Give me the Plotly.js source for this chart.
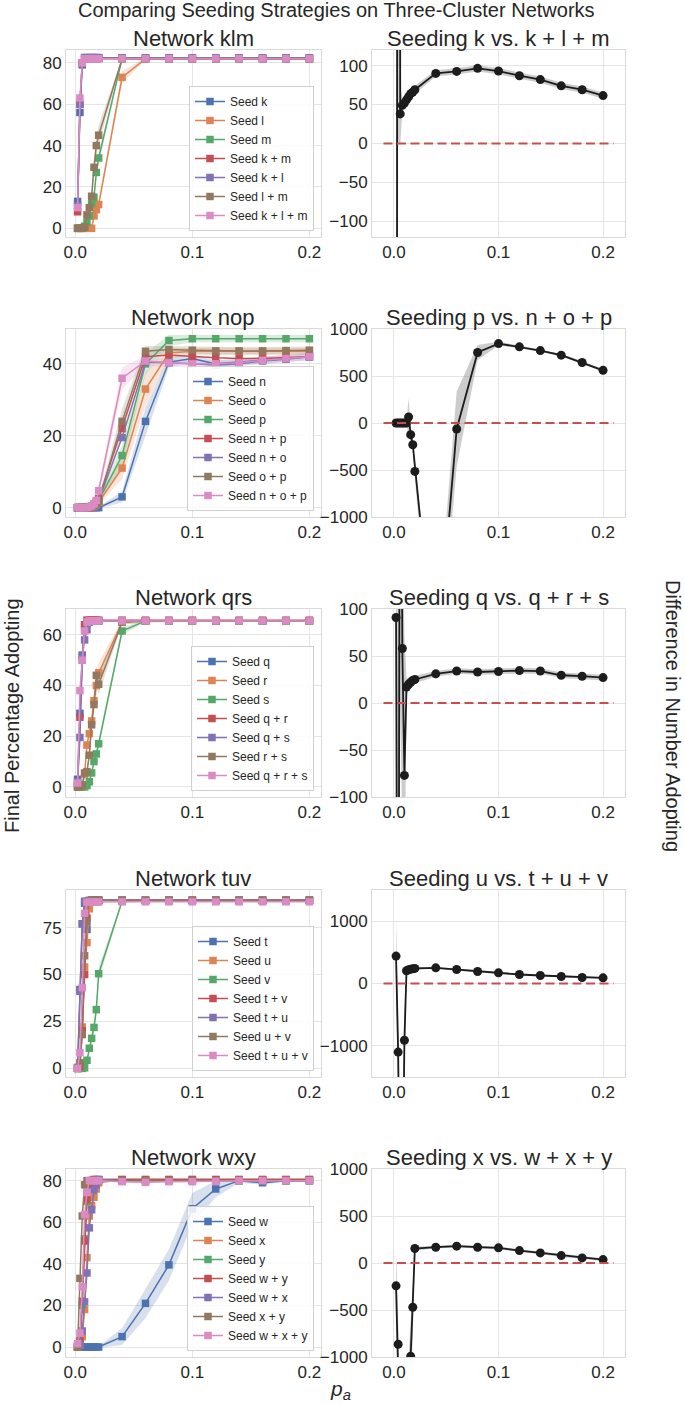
<!DOCTYPE html>
<html><head><meta charset="utf-8">
<script src="https://cdn.plot.ly/plotly-3.0.1.min.js"></script>
<style>body{margin:0;padding:0;background:#fff}#chart{width:685px;height:1405px}</style>
</head><body><div id="chart"></div>
<script>
// ---------- data ----------
const pa = [0.002,0.004,0.006,0.008,0.010,0.012,0.014,0.016,0.018,0.020,0.04,0.06,0.08,0.10,0.12,0.14,0.16,0.18,0.20];
const xTickVals = [0, 0.1, 0.2];
const xTickText = ['0.0', '0.1', '0.2'];
const zeroLineX = [-0.01, 0.21];
const zeroLineY = [0, 0];

// Network klm
const klmNames = ['Seed k','Seed l','Seed m','Seed k + m','Seed k + l','Seed l + m','Seed k + l + m'];
const klm_k   = [13,56,79,82.5,82.5,82.5,82.5,82.5,82.5,82.5,82.4,82.4,82.4,82.4,82.4,82.4,82.4,82.4,82.4];
const klm_l   = [0,0,0,0,0,0,0,6,9,11.5,73,82,82,82,82,82,82,82,82];
const klm_m   = [0,0,0,1,3,6,12,15,27,34,82,82,82,82,82,82,82,82,82];
const klm_km  = [8,60,80,82,82,82,82,82,82,82,82,82,82,82,82,82,82,82,82];
const klm_kl  = [11,60,80,82.5,82.5,82.5,82.5,82.5,82.5,82.5,82.4,82.4,82.4,82.4,82.4,82.4,82.4,82.4,82.4];
const klm_lm  = [0,0,0,0.5,6.5,10,15.5,29.5,40,45,82,82,82,82,82,82,82,82,82];
const klm_klm = [10,63,80,82,82,82,82,82,82,82,82,82,82,82,82,82,82,82,82];
const klm_l_err  = [0,0,0,0,0,0,0,1,1.5,2,3,0.5,0.3,0.3,0.3,0.3,0.3,0.3,0.3];
const klm_m_err  = [0,0,0,0.5,1,1.5,2,2,3,3,0.5,0.3,0.3,0.3,0.3,0.3,0.3,0.3,0.3];
const klm_lm_err = [0,0,0,0.3,1.5,2,3,4,5,5,0.5,0.3,0.3,0.3,0.3,0.3,0.3,0.3,0.3];
const klm_diff     = [-3000,3000,38,49,52,56,60,64,66,69,90,92.5,96.5,93,87,82,74,69,61.5];
const klm_diff_err = [3000,3000,40,8,6,6,5,5,5,5,4,4,4,4,4,4,4,4,4];

// Network nop
const nopNames = ['Seed n','Seed o','Seed p','Seed n + p','Seed n + o','Seed o + p','Seed n + o + p'];
const nop_n   = [0,0,0,0,0,0,0,0,0,0,3,24,40.5,41.5,40,40.5,41,41.5,42];
const nop_o   = [0,0,0,0,0,0,0,0.3,0.8,1.5,11,33,43,43.5,43.5,43.5,43.5,43.5,43.5];
const nop_p   = [0,0,0,0,0,0.3,0.5,1,1.3,2,14.5,40,46.5,47,47,47,47,47,47];
const nop_np  = [0,0,0,0,0,0,0.3,0.8,1.5,2.5,22,42,42.5,42,41.7,41.5,41.5,41.8,42];
const nop_no  = [0,0,0,0,0,0,0.2,0.6,1.2,2,19.5,40.5,40.3,40,39.7,40,40.8,41.3,42];
const nop_op  = [0,0,0,0,0,0,0.2,0.5,1,1.8,24,43.5,44,43.8,43.6,43.6,43.6,43.7,43.8];
const nop_nop = [0,0,0,0,0,0.2,0.5,1,2,4.7,36,40.8,40.3,40,40,40.3,41,41.5,42];
const nop_n_err   = [0,0,0,0,0,0,0,0,0,0.3,1.5,4,1.5,1,1,1,1,1,1];
const nop_o_err   = [0,0,0,0,0,0,0,0.3,0.5,0.8,3,4.5,1.5,1,1,1,1,1,1];
const nop_p_err   = [0,0,0,0,0,0.3,0.4,0.5,0.7,1,3,3,1.5,1,1,1,1,1,1];
const nop_op_err  = [0,0,0,0,0,0,0.2,0.3,0.5,1,3.5,1.5,1,1,1,1,1,1,1];
const nop_nop_err = [0,0,0,0,0,0.2,0.3,0.5,1,1.5,3,1.5,1,1,1,1,1,1,1];
const nop_diff     = [0,0,0,0,0,0,64,-124,-231,-515,-2670,-64,750,845,810,770,722,644,560];
const nop_diff_err = [5,5,5,5,5,10,200,80,60,80,300,400,80,20,15,15,15,15,15];

// Network qrs
const qrsNames = ['Seed q','Seed r','Seed s','Seed q + r','Seed q + s','Seed r + s','Seed q + r + s'];
const qrs_q   = [3,29,52,63,64.5,65.5,65.5,65.5,65.5,65.5,65.5,65.5,65.5,65.5,65.5,65.5,65.5,65.5,65.5];
const qrs_r   = [0,0,0.5,5,16.5,21,26,34,40,45,65,65.5,65.5,65.5,65.5,65.5,65.5,65.5,65.5];
const qrs_s   = [0,0,0,0,0.5,2,5.5,10,13,17,61.5,65.5,65.5,65.5,65.5,65.5,65.5,65.5,65.5];
const qrs_qr  = [1,27.5,50,64,65.8,65.8,65.8,65.8,65.8,65.8,65.8,65.8,65.8,65.8,65.8,65.8,65.8,65.8,65.8];
const qrs_qs  = [2,19.5,51.5,58,62,65,65.5,65.5,65.5,65.5,65.5,65.5,65.5,65.5,65.5,65.5,65.5,65.5,65.5];
const qrs_rs  = [0,0,0.8,5.5,6,12.5,24.5,32.5,44,40.5,65,65.5,65.5,65.5,65.5,65.5,65.5,65.5,65.5];
const qrs_qrs = [1.5,38,50,61.5,65,65.5,65.5,65.5,65.5,65.5,65.5,65.5,65.5,65.5,65.5,65.5,65.5,65.5,65.5];
const qrs_r_err  = [0,0,0.3,1,2,3,3,4,4,4,1,0.5,0.3,0.3,0.3,0.3,0.3,0.3,0.3];
const qrs_s_err  = [0,0,0,0,0.3,0.5,1,1.5,2,2,1.5,0.5,0.3,0.3,0.3,0.3,0.3,0.3,0.3];
const qrs_rs_err = [0,0,0.3,1,1.5,2,3,3.5,4,4,1,0.5,0.3,0.3,0.3,0.3,0.3,0.3,0.3];
const qrs_diff     = [91,-600,600,58,-77,17,20,22,24,25,31,34,33,33.5,34.5,34,29.5,28.5,27];
const qrs_diff_err = [400,600,600,200,150,10,5,4,4,4,3,3,3,3,3,3,3,3,3];

// Network tuv
const tuvNames = ['Seed t','Seed u','Seed v','Seed t + v','Seed t + u','Seed u + v','Seed t + u + v'];
const tuv_t   = [0.5,42,77,88,74,87,89.5,89.5,89.5,89.5,89.5,89.5,89.5,89.5,89.5,89.5,89.5,89.5,89.5];
const tuv_u   = [0,2,22,54,67,85,89.5,89.5,89.5,89.5,89.5,89.5,89.5,89.5,89.5,89.5,89.5,89.5,89.5];
const tuv_v   = [0,0,0,0.3,4.3,10.7,16,21.8,31.3,50.4,89,89.3,89.3,89.3,89.3,89.3,89.3,89.3,89.3];
const tuv_tv  = [0,1,20,50,80,89,89.5,89.5,89.5,89.5,89.5,89.5,89.5,89.5,89.5,89.5,89.5,89.5,89.5];
const tuv_tu  = [0,41,77,89,89,89.5,89.5,89.5,89.5,89.5,89.5,89.5,89.5,89.5,89.5,89.5,89.5,89.5,89.5];
const tuv_uv  = [0,3,18,60,78,89,89.5,89.5,89.5,89.5,89.5,89.5,89.5,89.5,89.5,89.5,89.5,89.5,89.5];
const tuv_tuv = [0,8.4,43,82.6,88.4,88.5,88.6,88.6,88.6,88.6,88.7,88.7,88.7,88.7,88.7,88.7,88.7,88.7,88.7];
const tuv_v_err = [0,0,0,0.2,1,1.5,2,2.5,3,3.5,1,0.3,0.3,0.3,0.3,0.3,0.3,0.3,0.3];
const tuv_diff     = [440,-1100,-4000,-4000,-910,205,220,230,237,242,251,225,193,171,144,128,112,96,91];
const tuv_diff_err = [600,500,1000,1000,500,30,20,20,20,20,15,15,15,15,15,15,15,15,15];

// Network wxy
const wxyNames = ['Seed w','Seed x','Seed y','Seed w + y','Seed w + x','Seed x + y','Seed w + x + y'];
const wxy_w   = [0,0,0,0,0,0,0,0,0,0,5,21,39.5,66.5,76,80,79,80,80];
const wxy_x   = [0,1,5,18,43,63,68,72,76,79,80.5,80.5,80.5,80.5,80.5,80.5,80.5,80.5,80.5];
const wxy_y   = [0,2,20,52,70,79,80,80.5,80.5,80.5,80.5,80.5,80.5,80.5,80.5,80.5,80.5,80.5,80.5];
const wxy_wy  = [0,3,22,51,71,78,80,80.5,80.5,80.5,80.5,80.5,80.5,80.5,80.5,80.5,80.5,80.5,80.5];
const wxy_wx  = [0,1,7.7,21.7,35.6,57.3,66,75.5,78,80.5,80,80,80,80,80,80,80,80,80];
const wxy_xy  = [0,33,63,78,80,80,80,80,80,80,80,80,80,80,80,80,80,80,80];
const wxy_wxy = [1.6,6.7,29,63.7,74.3,80,80,80,80,80,79.5,79.2,79.5,79.5,79.7,80,80,80,80];
const wxy_w_err = [0,0,0,0,0,0,0,0,0,0.5,4,7,7.5,7.5,4,1,1,0.5,0.5];
const wxy_diff     = [-243,-864,-2500,-3000,-2500,-2000,-1800,-993,-471,154,168,179,168,161,132,107,79,54,36];
const wxy_diff_err = [350,300,800,800,800,800,800,400,300,20,15,15,15,15,15,15,15,15,15];

// ---------- styling ----------
const FONT = 'Liberation Sans, Arial, sans-serif';
const TXT = '#262626';
const COLORS = ['#4C72B0','#DD8452','#55A868','#C44E52','#8172B3','#937860','#DA8BC3'];
const W = 685, H = 1405;
const leftX = [66, 321], rightX = [372, 625];
const rowTop = [50, 329, 609, 890, 1169];
const rowBot = [237, 517, 797, 1077, 1357];

const rows = [
  {title:'Network klm', right:'Seeding k vs. k + l + m', names:klmNames,
   series:[klm_k,klm_l,klm_m,klm_km,klm_kl,klm_lm,klm_klm], errs:{1:klm_l_err,2:klm_m_err,5:klm_lm_err},
   yr:[-4.2,86.2], dt:20, diff:klm_diff, derr:klm_diff_err, dyr:[-120,120], ddt:50},
  {title:'Network nop', right:'Seeding p vs. n + o + p', names:nopNames,
   series:[nop_n,nop_o,nop_p,nop_np,nop_no,nop_op,nop_nop], errs:{0:nop_n_err,1:nop_o_err,2:nop_p_err,5:nop_op_err,6:nop_nop_err},
   yr:[-2.6,49.7], dt:20, diff:nop_diff, derr:nop_diff_err, dyr:[-1000,1000], ddt:500},
  {title:'Network qrs', right:'Seeding q vs. q + r + s', names:qrsNames,
   series:[qrs_q,qrs_r,qrs_s,qrs_qr,qrs_qs,qrs_rs,qrs_qrs], errs:{1:qrs_r_err,2:qrs_s_err,5:qrs_rs_err},
   yr:[-4.0,70.2], dt:20, diff:qrs_diff, derr:qrs_diff_err, dyr:[-100,100], ddt:50},
  {title:'Network tuv', right:'Seeding u vs. t + u + v', names:tuvNames,
   series:[tuv_t,tuv_u,tuv_v,tuv_tv,tuv_tu,tuv_uv,tuv_tuv], errs:{2:tuv_v_err},
   yr:[-4.6,95], dt:25, diff:tuv_diff, derr:tuv_diff_err, dyr:[-1500,1500], ddt:1000},
  {title:'Network wxy', right:'Seeding x vs. w + x + y', names:wxyNames,
   series:[wxy_w,wxy_x,wxy_y,wxy_wy,wxy_wx,wxy_xy,wxy_wxy], errs:{0:wxy_w_err},
   yr:[-4.8,85.6], dt:20, diff:wxy_diff, derr:wxy_diff_err, dyr:[-1000,1000], ddt:500}
];

function rgba(hex, a){
  const n = parseInt(hex.slice(1),16);
  return 'rgba('+((n>>16)&255)+','+((n>>8)&255)+','+(n&255)+','+a+')';
}
function band(xs, ys, err, xa, ya, color){
  const up = ys.map((v,i)=>v+err[i]);
  const lo = ys.map((v,i)=>v-err[i]);
  return {x: xs.concat(xs.slice().reverse()), y: up.concat(lo.reverse()),
    xaxis:xa, yaxis:ya, type:'scatter', mode:'lines', fill:'toself',
    fillcolor: color, line:{width:0, color:'rgba(0,0,0,0)'}, hoverinfo:'skip', showlegend:false};
}

const traces = [];
const layout = {
  width: W, height: H, margin:{l:0,r:0,t:0,b:0},
  paper_bgcolor:'#ffffff', plot_bgcolor:'#ffffff',
  font:{family:FONT, color:TXT},
  showlegend:true, annotations:[]
};

function axisBase(){
  return {showgrid:true, gridcolor:'#E5E5E5', gridwidth:1, zeroline:false,
    showline:true, mirror:true, linecolor:'#D9D9D9', linewidth:1, ticks:'',
    tickfont:{size:17, color:TXT, family:FONT}, fixedrange:true};
}

rows.forEach((r, i) => {
  const li = 2*i+1, ri = 2*i+2;
  const lx = 'x'+(li===1?'':li), ly = 'y'+(li===1?'':li);
  const rx = 'x'+ri, ry = 'y'+ri;
  const lg = i===0 ? 'legend' : 'legend'+(i+1);
  const yDom = [1 - rowBot[i]/H, 1 - rowTop[i]/H];

  layout['xaxis'+(li===1?'':li)] = Object.assign(axisBase(), {domain:[leftX[0]/W, leftX[1]/W], anchor:ly,
    range:[-0.0079, 0.2099], tickvals:xTickVals, ticktext:xTickText});
  layout['yaxis'+(li===1?'':li)] = Object.assign(axisBase(), {domain:yDom, anchor:lx,
    range:r.yr, dtick:r.dt, tick0:0});
  layout['xaxis'+ri] = Object.assign(axisBase(), {domain:[rightX[0]/W, rightX[1]/W], anchor:ry,
    range:[-0.021, 0.221], tickvals:xTickVals, ticktext:xTickText});
  layout['yaxis'+ri] = Object.assign(axisBase(), {domain:yDom, anchor:rx,
    range:r.dyr, dtick:r.ddt, tick0:0});

  r.series.forEach((s, k) => {
    if (r.errs[k]) traces.push(band(pa, s, r.errs[k], lx, ly, rgba(COLORS[k], 0.22)));
  });
  r.series.forEach((s, k) => {
    traces.push({x:pa, y:s, xaxis:lx, yaxis:ly, type:'scatter', mode:'lines+markers',
      name:r.names[k], legend:lg, line:{color:COLORS[k], width:1.5},
      marker:{symbol:'square', size:7.5, color:COLORS[k]}, hoverinfo:'skip'});
  });
  traces.push(band(pa, r.diff, r.derr, rx, ry, 'rgba(110,110,110,0.35)'));
  traces.push({x:pa, y:r.diff, xaxis:rx, yaxis:ry, type:'scatter', mode:'lines+markers',
    showlegend:false, line:{color:'#1c1c1c', width:1.8},
    marker:{symbol:'circle', size:9, color:'#1c1c1c'}, hoverinfo:'skip'});
  traces.push({x:zeroLineX, y:zeroLineY, xaxis:rx, yaxis:ry, type:'scatter', mode:'lines',
    showlegend:false, line:{color:'#C44E52', width:2, dash:'9px,4.5px'}, hoverinfo:'skip'});

  layout[lg] = {x:314/W, xanchor:'right', y:1-(rowBot[i]-6)/H, yanchor:'bottom',
    xref:'paper', yref:'paper', bgcolor:'rgba(255,255,255,0.85)', bordercolor:'#D0D0D0', borderwidth:1,
    font:{size:12, color:TXT, family:FONT}, tracegroupgap:0, itemwidth:30};

  layout.annotations.push({text:r.title, xref:'paper', yref:'paper',
    x:(leftX[0]+leftX[1])/2/W, y:1-(rowTop[i]+3)/H, xanchor:'center', yanchor:'bottom',
    showarrow:false, font:{size:22, color:TXT, family:FONT}});
  layout.annotations.push({text:r.right, xref:'paper', yref:'paper',
    x:(rightX[0]+rightX[1])/2/W, y:1-(rowTop[i]+3)/H, xanchor:'center', yanchor:'bottom',
    showarrow:false, font:{size:22, color:TXT, family:FONT}});
});

layout.annotations.push({text:'Comparing Seeding Strategies on Three-Cluster Networks', xref:'paper', yref:'paper',
  x:336.5/W, y:1-10/H, xanchor:'center', yanchor:'middle', showarrow:false, font:{size:20, color:TXT, family:FONT}});
layout.annotations.push({text:'Final Percentage Adopting', xref:'paper', yref:'paper',
  x:12/W, y:1-716/H, xanchor:'center', yanchor:'middle', textangle:-90, showarrow:false,
  font:{size:20, color:TXT, family:FONT}});
layout.annotations.push({text:'Difference in Number Adopting', xref:'paper', yref:'paper',
  x:673/W, y:1-716/H, xanchor:'center', yanchor:'middle', textangle:90, showarrow:false,
  font:{size:20, color:TXT, family:FONT}});
layout.annotations.push({text:'<i>p</i><sub><i>a</i></sub>', xref:'paper', yref:'paper',
  x:340/W, y:1-1390/H, xanchor:'center', yanchor:'middle', showarrow:false,
  font:{size:21, color:TXT, family:FONT}});

Plotly.newPlot('chart', traces, layout, {displayModeBar:false, staticPlot:true});
</script></body></html>
